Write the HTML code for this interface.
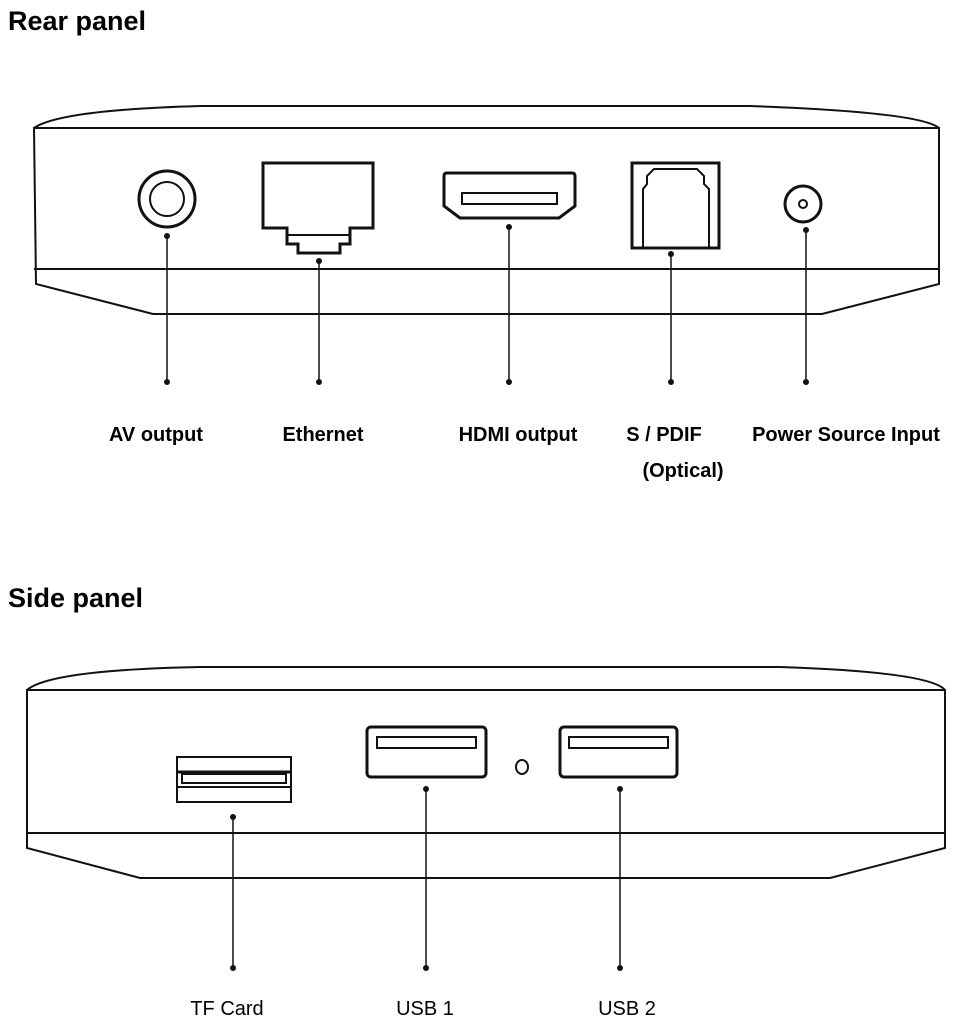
<!DOCTYPE html>
<html><head><style>
html,body{margin:0;padding:0;background:#fff;}
svg{display:block;}
text{font-family:"Liberation Sans",Arial,sans-serif;fill:#000;}
</style></head><body>
<svg width="964" height="1024" viewBox="0 0 964 1024" xmlns="http://www.w3.org/2000/svg">
<text x="8" y="30" font-size="27" font-weight="bold">Rear panel</text>
<text x="8" y="607" font-size="27" font-weight="bold">Side panel</text>

<g fill="none" stroke="#111" stroke-width="2">
<path d="M34,128 Q60,110 200,106 L750,106 Q920,112 939,128"/>
<path d="M34,128 L939,128 L939,284 L822,314 L153,314 L36,284 Z"/>
<line x1="34" y1="269" x2="939" y2="269"/>
<circle cx="167" cy="199" r="28" stroke-width="3"/>
<circle cx="167" cy="199" r="17"/>
<path d="M263,163 H373 V228 H350 V244 H340 V253 H298 V244 H287 V228 H263 Z" stroke-width="3"/>
<line x1="287" y1="235" x2="350" y2="235"/>
<path d="M447,173 H572 Q575,173 575,176 V206 L559,218 H460 L444,206 V176 Q444,173 447,173 Z" stroke-width="3"/>
<rect x="462" y="193" width="95" height="11"/>
<rect x="632" y="163" width="87" height="85" stroke-width="3"/>
<path d="M643,248 V189 L647,184 V176 L654,169 H697 L704,176 V184 L709,189 V248"/>
<circle cx="803" cy="204" r="18" stroke-width="3"/>
<circle cx="803" cy="204" r="4"/>
</g>
<g stroke="#111" stroke-width="1.5">
<line x1="167" y1="236" x2="167" y2="382"/>
<line x1="319" y1="261" x2="319" y2="382"/>
<line x1="509" y1="227" x2="509" y2="382"/>
<line x1="671" y1="254" x2="671" y2="382"/>
<line x1="806" y1="230" x2="806" y2="382"/>
</g>
<g fill="#111">
<circle cx="167" cy="236" r="3"/><circle cx="167" cy="382" r="3"/>
<circle cx="319" cy="261" r="3"/><circle cx="319" cy="382" r="3"/>
<circle cx="509" cy="227" r="3"/><circle cx="509" cy="382" r="3"/>
<circle cx="671" cy="254" r="3"/><circle cx="671" cy="382" r="3"/>
<circle cx="806" cy="230" r="3"/><circle cx="806" cy="382" r="3"/>
</g>
<g font-size="20" font-weight="bold" text-anchor="middle">
<text x="156" y="441">AV output</text>
<text x="323" y="441">Ethernet</text>
<text x="518" y="441">HDMI output</text>
<text x="664" y="441">S / PDIF</text>
<text x="683" y="477">(Optical)</text>
<text x="846" y="441">Power Source Input</text>
</g>

<g fill="none" stroke="#111" stroke-width="2">
<path d="M27,690 Q50,670 200,667 L780,667 Q930,672 945,690"/>
<path d="M27,690 L945,690 L945,848 L830,878 L140,878 L27,848 Z"/>
<line x1="27" y1="833" x2="945" y2="833"/>
<rect x="177" y="757" width="114" height="45"/>
<line x1="177" y1="772" x2="291" y2="772" stroke-width="3"/>
<rect x="182" y="774" width="104" height="9"/>
<line x1="177" y1="787" x2="291" y2="787"/>
<rect x="367" y="727" width="119" height="50" rx="4" stroke-width="3"/>
<rect x="377" y="737" width="99" height="11"/>
<ellipse cx="522" cy="767" rx="6" ry="7"/>
<rect x="560" y="727" width="117" height="50" rx="4" stroke-width="3"/>
<rect x="569" y="737" width="99" height="11"/>
</g>
<g stroke="#111" stroke-width="1.5">
<line x1="233" y1="817" x2="233" y2="968"/>
<line x1="426" y1="789" x2="426" y2="968"/>
<line x1="620" y1="789" x2="620" y2="968"/>
</g>
<g fill="#111">
<circle cx="233" cy="817" r="3"/><circle cx="233" cy="968" r="3"/>
<circle cx="426" cy="789" r="3"/><circle cx="426" cy="968" r="3"/>
<circle cx="620" cy="789" r="3"/><circle cx="620" cy="968" r="3"/>
</g>
<g font-size="20" text-anchor="middle">
<text x="227" y="1015">TF Card</text>
<text x="425" y="1015">USB 1</text>
<text x="627" y="1015">USB 2</text>
</g>
</svg>
</body></html>
